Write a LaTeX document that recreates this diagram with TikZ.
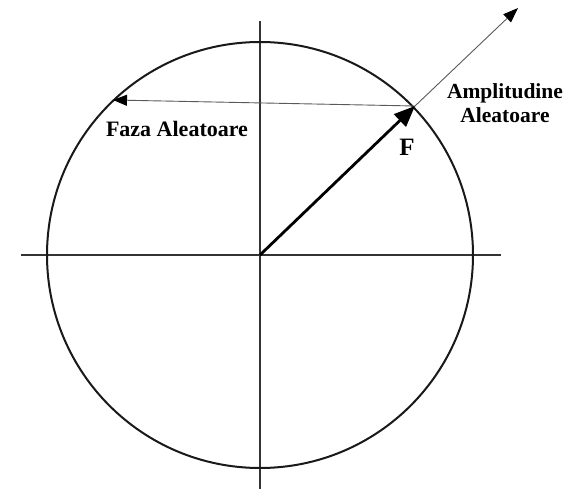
\documentclass[tikz,border=0pt]{standalone}
\usepackage{fontspec}
\setmainfont{Liberation Serif}
\usetikzlibrary{arrows.meta}
\begin{document}
\begin{tikzpicture}[x=1pt,y=-1pt,
  axis/.style={line width=2pt,black!80},
  thin/.style={line width=0.9pt,black!65},
  lbl/.style={font=\fontsize{21.5}{24}\selectfont\bfseries,inner sep=0pt,align=center}]
\useasboundingbox (0,0) rectangle (565,489);
\coordinate (O) at (260,255);
\coordinate (P) at (415,106);
\coordinate (Q) at (113,100);
\coordinate (T) at (518,8);
\coordinate (L) at (21,255);
\coordinate (R) at (501,255);
\coordinate (U) at (260,21);
\coordinate (D) at (260,489);
\draw[axis] (L) -- (R);
\draw[axis] (U) -- (D);
\draw[axis,black!90] (O) circle (213);
\draw[thin,-{Triangle[length=15pt,width=11pt,color=black]}] (P) -- (T);
\draw[thin,-{Triangle[length=14pt,width=11pt,color=black]}] (P) -- (Q);
\draw[line width=2.8pt,-{Triangle[length=21pt,width=17pt]}] (O) -- (P);
\node[lbl] (amp) at (505,103) {Amplitudine\\Aleatoare};
\node[lbl,font=\fontsize{22}{24}\selectfont\bfseries] (faza) at (177,129) {Faza Aleatoare};
\node[lbl,font=\fontsize{25}{27}\selectfont\bfseries] (F) at (407,147) {F};
\end{tikzpicture}
\end{document}
